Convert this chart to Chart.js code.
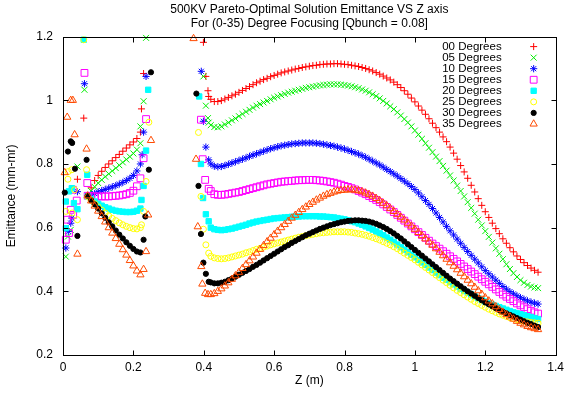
<!DOCTYPE html>
<html>
<head>
<meta charset="utf-8">
<script src="https://cdn.jsdelivr.net/npm/chart.js@4.4.1/dist/chart.umd.min.js"></script>
<style>
html,body{margin:0;padding:0;background:#ffffff;}
#wrap{width:569px;height:396px;position:relative;}
</style>
</head>
<body>
<div id="wrap"><canvas id="c" width="569" height="396"></canvas></div>
<script>
// ---------------- DATA ----------------
const seriesLabels = ["00 Degrees","05 Degrees","10 Degrees","15 Degrees","20 Degrees","25 Degrees","30 Degrees","35 Degrees"];
const titleLines = ["500KV Pareto-Optimal Solution Emittance VS Z axis","For (0-35) Degree Focusing [Qbunch = 0.08]"];
const xTicks = [0,0.2,0.4,0.6,0.8,1,1.2,1.4];
const yTicks = [0.2,0.4,0.6,0.8,1,1.2];

// first (short) section of every curve
const zSeg1 = [0.07,0.08,0.09,0.10,0.11,0.12,0.13,0.14,0.15,0.16,0.17,0.18,0.19,0.20,0.21,0.22];
// second (long) section of every curve
const zSeg2 = [0.42,0.43,0.44,0.45,0.46,0.47,0.48,0.49,
  0.50,0.51,0.52,0.53,0.54,0.55,0.56,0.57,0.58,0.59,
  0.60,0.61,0.62,0.63,0.64,0.65,0.66,0.67,0.68,0.69,
  0.70,0.71,0.72,0.73,0.74,0.75,0.76,0.77,0.78,0.79,
  0.80,0.81,0.82,0.83,0.84,0.85,0.86,0.87,0.88,0.89,
  0.90,0.91,0.92,0.93,0.94,0.95,0.96,0.97,0.98,0.99,
  1.00,1.01,1.02,1.03,1.04,1.05,1.06,1.07,1.08,1.09,
  1.10,1.11,1.12,1.13,1.14,1.15,1.16,1.17,1.18,1.19,
  1.20,1.21,1.22,1.23,1.24,1.25,1.26,1.27,1.28,1.29,
  1.30,1.31,1.32,1.33,1.34,1.35];

const deg00_seg1 = [0.70,0.725,0.748,0.764,0.777,0.789,0.80,0.81,0.82,0.83,0.84,0.85,0.86,0.869,0.88,0.90];
const deg05_seg1 = [0.70,0.715,0.728,0.74,0.75,0.76,0.769,0.778,0.787,0.796,0.805,0.814,0.823,0.833,0.845,0.865];
const deg10_seg1 = [0.698,0.703,0.707,0.712,0.716,0.72,0.724,0.728,0.732,0.737,0.742,0.748,0.755,0.764,0.778,0.80];
const deg15_seg1 = [0.70,0.699,0.698,0.698,0.698,0.698,0.698,0.699,0.70,0.701,0.703,0.705,0.709,0.716,0.73,0.755];
const deg20_seg1 = [0.698,0.69,0.682,0.675,0.669,0.664,0.66,0.656,0.653,0.651,0.65,0.649,0.649,0.65,0.653,0.66];
const deg25_seg1 = [0.697,0.686,0.675,0.665,0.655,0.646,0.637,0.629,0.622,0.615,0.609,0.604,0.60,0.597,0.596,0.60];
const deg30_seg1 = [0.70,0.686,0.673,0.66,0.645,0.631,0.617,0.604,0.591,0.578,0.566,0.554,0.543,0.533,0.525,0.522];
const deg35_seg1 = [0.70,0.684,0.668,0.652,0.635,0.618,0.60,0.583,0.566,0.548,0.531,0.514,0.497,0.48,0.464,0.452];

const deg00_seg2 = [1.003,0.996,0.996,0.999,1.004,1.009,1.014,1.019,
  1.025,1.031,1.037,1.043,1.049,1.055,1.06,1.065,1.069,1.074,
  1.078,1.082,1.086,1.089,1.092,1.095,1.098,1.10,1.103,1.105,
  1.107,1.109,1.11,1.112,1.113,1.114,1.114,1.115,1.115,1.114,
  1.113,1.112,1.11,1.108,1.106,1.103,1.10,1.096,1.092,1.087,
  1.082,1.076,1.07,1.064,1.057,1.049,1.04,1.03,1.019,1.007,
  0.995,0.982,0.969,0.956,0.942,0.928,0.914,0.90,0.885,0.87,
  0.853,0.834,0.815,0.795,0.775,0.755,0.733,0.712,0.691,0.67,
  0.65,0.632,0.614,0.597,0.581,0.565,0.551,0.537,0.524,0.511,
  0.50,0.49,0.481,0.473,0.466,0.46];
const deg05_seg2 = [0.922,0.916,0.915,0.918,0.924,0.93,0.937,0.943,
  0.95,0.957,0.964,0.97,0.977,0.983,0.988,0.993,0.998,1.003,
  1.008,1.012,1.016,1.02,1.024,1.027,1.03,1.033,1.036,1.039,
  1.041,1.043,1.045,1.047,1.048,1.049,1.05,1.05,1.05,1.049,
  1.048,1.046,1.044,1.041,1.038,1.034,1.03,1.025,1.019,1.013,
  1.006,0.998,0.99,0.981,0.972,0.962,0.952,0.941,0.93,0.918,
  0.905,0.892,0.879,0.865,0.851,0.837,0.823,0.809,0.794,0.779,
  0.764,0.748,0.732,0.715,0.698,0.68,0.662,0.644,0.625,0.607,
  0.589,0.571,0.553,0.535,0.518,0.501,0.485,0.47,0.457,0.445,
  0.435,0.427,0.42,0.415,0.412,0.41];
const deg10_seg2 = [0.80,0.793,0.791,0.792,0.795,0.799,0.803,0.807,
  0.811,0.815,0.819,0.824,0.828,0.832,0.836,0.84,0.844,0.848,
  0.851,0.854,0.857,0.859,0.861,0.863,0.864,0.865,0.866,0.866,
  0.866,0.866,0.865,0.864,0.862,0.86,0.858,0.856,0.853,0.85,
  0.847,0.843,0.839,0.835,0.831,0.826,0.821,0.815,0.809,0.803,
  0.797,0.79,0.783,0.776,0.769,0.762,0.754,0.746,0.738,0.729,
  0.72,0.709,0.697,0.685,0.673,0.66,0.646,0.632,0.618,0.604,
  0.59,0.577,0.564,0.551,0.538,0.525,0.513,0.501,0.489,0.477,
  0.465,0.455,0.445,0.435,0.425,0.415,0.407,0.399,0.392,0.386,
  0.38,0.375,0.37,0.366,0.363,0.36];
const deg15_seg2 = [0.715,0.705,0.703,0.703,0.704,0.706,0.708,0.71,
  0.712,0.715,0.718,0.721,0.724,0.727,0.73,0.733,0.736,0.738,
  0.74,0.742,0.744,0.745,0.746,0.747,0.748,0.749,0.749,0.75,
  0.75,0.75,0.749,0.748,0.747,0.745,0.743,0.741,0.738,0.735,
  0.731,0.728,0.724,0.72,0.715,0.71,0.705,0.699,0.693,0.687,
  0.68,0.673,0.665,0.657,0.649,0.64,0.631,0.622,0.613,0.604,
  0.595,0.586,0.577,0.568,0.559,0.55,0.542,0.534,0.526,0.518,
  0.51,0.502,0.494,0.486,0.478,0.47,0.462,0.454,0.446,0.438,
  0.43,0.422,0.414,0.406,0.398,0.39,0.383,0.376,0.369,0.362,
  0.356,0.35,0.344,0.339,0.334,0.33];
const deg20_seg2 = [0.60,0.595,0.593,0.592,0.593,0.595,0.597,0.60,
  0.603,0.606,0.609,0.613,0.616,0.619,0.621,0.623,0.625,0.627,
  0.629,0.63,0.631,0.632,0.633,0.634,0.635,0.635,0.636,0.636,
  0.636,0.636,0.636,0.635,0.635,0.634,0.633,0.632,0.63,0.628,
  0.626,0.623,0.62,0.617,0.613,0.609,0.604,0.599,0.594,0.588,
  0.582,0.576,0.569,0.562,0.555,0.547,0.539,0.531,0.523,0.515,
  0.507,0.499,0.491,0.483,0.475,0.467,0.459,0.451,0.443,0.436,
  0.429,0.422,0.415,0.408,0.402,0.396,0.39,0.384,0.378,0.373,
  0.368,0.363,0.358,0.354,0.35,0.346,0.342,0.338,0.334,0.331,
  0.328,0.325,0.322,0.319,0.316,0.313];
const deg25_seg2 = [0.51,0.505,0.503,0.502,0.503,0.505,0.508,0.511,
  0.514,0.517,0.521,0.524,0.528,0.532,0.535,0.539,0.542,0.546,
  0.549,0.552,0.555,0.558,0.561,0.564,0.567,0.57,0.572,0.575,
  0.577,0.579,0.581,0.583,0.584,0.585,0.586,0.587,0.587,0.587,
  0.587,0.586,0.585,0.583,0.581,0.579,0.576,0.573,0.569,0.565,
  0.561,0.556,0.551,0.546,0.54,0.534,0.527,0.52,0.513,0.506,
  0.499,0.491,0.483,0.475,0.467,0.459,0.451,0.443,0.435,0.427,
  0.419,0.411,0.403,0.396,0.389,0.382,0.375,0.368,0.362,0.356,
  0.35,0.344,0.339,0.334,0.329,0.325,0.321,0.317,0.314,0.311,
  0.308,0.306,0.304,0.302,0.301,0.30];
const deg30_seg2 = [0.428,0.425,0.425,0.427,0.43,0.435,0.44,0.446,
  0.452,0.458,0.464,0.47,0.477,0.483,0.49,0.497,0.504,0.511,
  0.518,0.525,0.532,0.539,0.545,0.552,0.558,0.564,0.57,0.576,
  0.581,0.586,0.591,0.596,0.60,0.604,0.608,0.611,0.614,0.617,
  0.619,0.621,0.622,0.623,0.623,0.622,0.621,0.619,0.616,0.612,
  0.607,0.602,0.596,0.589,0.582,0.574,0.566,0.557,0.548,0.539,
  0.53,0.521,0.512,0.503,0.494,0.485,0.476,0.467,0.458,0.449,
  0.44,0.432,0.424,0.416,0.408,0.40,0.393,0.386,0.379,0.372,
  0.365,0.359,0.353,0.347,0.341,0.336,0.331,0.326,0.321,0.316,
  0.311,0.306,0.301,0.297,0.292,0.288];
const deg35_seg2 = [0.39,0.393,0.40,0.408,0.417,0.427,0.438,0.449,
  0.46,0.472,0.484,0.496,0.508,0.52,0.532,0.544,0.556,0.567,
  0.578,0.589,0.60,0.61,0.62,0.63,0.639,0.648,0.657,0.665,
  0.673,0.68,0.687,0.693,0.699,0.704,0.708,0.712,0.715,0.717,
  0.718,0.719,0.719,0.718,0.716,0.713,0.709,0.704,0.699,0.692,
  0.685,0.677,0.669,0.66,0.651,0.642,0.633,0.624,0.614,0.605,
  0.595,0.585,0.575,0.565,0.555,0.545,0.534,0.523,0.512,0.501,
  0.49,0.479,0.468,0.457,0.446,0.435,0.424,0.413,0.402,0.391,
  0.38,0.37,0.361,0.352,0.343,0.335,0.327,0.32,0.313,0.306,
  0.30,0.295,0.29,0.286,0.283,0.28];

// isolated points [z, emittance]
const deg00_extra = [[0.041,0.752],[0.059,0.944],[0.223,0.973],[0.229,1.084],[0.399,1.182],[0.406,1.075],[0.412,1.03],[0.414,1.012]];
const deg05_extra = [[0.008,0.509],[0.014,0.572],[0.022,0.593],[0.041,0.792],[0.061,1.033],[0.22,0.918],[0.229,0.997],[0.236,1.196],[0.399,1.075],[0.406,0.983],[0.412,0.944],[0.414,0.93]];
const deg10_extra = [[0.008,0.536],[0.015,0.588],[0.022,0.614],[0.025,0.63],[0.041,0.713],[0.061,1.052],[0.225,0.829],[0.229,0.90],[0.236,1.075],[0.393,1.091],[0.399,0.934],[0.406,0.853],[0.414,0.813]];
const deg15_extra = [[0.008,0.562],[0.017,0.583],[0.012,0.625],[0.029,0.64],[0.022,0.656],[0.039,0.685],[0.028,0.719],[0.069,0.74],[0.061,1.086],[0.229,0.818],[0.236,0.941],[0.392,0.939],[0.397,0.815],[0.404,0.75],[0.414,0.722]];
const deg20_extra = [[0.008,0.598],[0.008,0.682],[0.017,0.714],[0.025,0.724],[0.031,0.677],[0.041,0.658],[0.069,0.766],[0.059,1.19],[0.223,0.687],[0.229,0.731],[0.236,0.842],[0.242,1.033],[0.387,1.012],[0.392,0.80],[0.398,0.693],[0.406,0.642],[0.414,0.62]];
const deg25_extra = [[0.008,0.651],[0.014,0.752],[0.015,0.776],[0.025,0.782],[0.026,0.646],[0.033,0.719],[0.041,0.625],[0.067,0.782],[0.059,1.19],[0.223,0.609],[0.229,0.651],[0.236,0.745],[0.244,0.931],[0.385,0.899],[0.392,0.698],[0.399,0.595],[0.406,0.546],[0.414,0.52]];
const deg30_extra = [[0.005,0.71],[0.014,0.839],[0.022,0.871],[0.026,0.866],[0.034,0.785],[0.041,0.574],[0.067,0.813],[0.229,0.562],[0.234,0.635],[0.244,0.782],[0.25,1.088],[0.379,1.021],[0.385,0.731],[0.392,0.58],[0.399,0.49],[0.406,0.455],[0.414,0.43]];
const deg35_extra = [[0.005,0.773],[0.012,0.947],[0.022,1.0],[0.028,1.0],[0.033,0.892],[0.041,0.517],[0.067,0.847],[0.229,0.469],[0.236,0.525],[0.242,0.64],[0.25,0.874],[0.371,1.194],[0.378,0.815],[0.383,0.603],[0.393,0.478],[0.396,0.423],[0.404,0.394],[0.412,0.39]];

// ---------------- STYLE ----------------
const FONT = '"Liberation Sans", Arial, Helvetica, sans-serif';
const markerStyles = [
  {color:'#ff0000', style:'cross',    r:3.5, filled:false},
  {color:'#00ee00', style:'crossRot', r:4.2, filled:false},
  {color:'#0000ff', style:'star',     r:3.6, filled:false},
  {color:'#ff00ff', style:'rect',     r:4.8, filled:false},
  {color:'#00ffff', style:'rect',     r:3.8, filled:true},
  {color:'#ffff00', style:'circle',   r:3.0, filled:false},
  {color:'#000000', style:'circle',   r:2.6, filled:true},
  {color:'#ff4a00', style:'triangle', r:4.2, filled:false}
];

const seg1Values = [deg00_seg1,deg05_seg1,deg10_seg1,deg15_seg1,deg20_seg1,deg25_seg1,deg30_seg1,deg35_seg1];
const seg2Values = [deg00_seg2,deg05_seg2,deg10_seg2,deg15_seg2,deg20_seg2,deg25_seg2,deg30_seg2,deg35_seg2];
const extraValues = [deg00_extra,deg05_extra,deg10_extra,deg15_extra,deg20_extra,deg25_extra,deg30_extra,deg35_extra];

function buildPoints(i){
  const pts = [];
  extraValues[i].forEach(p => pts.push({x:p[0], y:p[1]}));
  zSeg1.forEach((z,k) => pts.push({x:z, y:seg1Values[i][k]}));
  zSeg2.forEach((z,k) => pts.push({x:z, y:seg2Values[i][k]}));
  return pts;
}

const datasets = seriesLabels.map((lab,i) => {
  const s = markerStyles[i];
  return {
    label: lab,
    data: buildPoints(i),
    showLine: false,
    pointStyle: s.style,
    pointRadius: s.r,
    pointHoverRadius: s.r,
    pointBorderWidth: 1,
    borderColor: s.color,
    backgroundColor: s.filled ? s.color : 'rgba(0,0,0,0)',
    pointBorderColor: s.color,
    pointBackgroundColor: s.filled ? s.color : 'rgba(0,0,0,0)',
    order: seriesLabels.length - 1 - i,
    clip: false
  };
});

// gnuplot-like frame, mirrored inward ticks and key
const gnuplotDecor = {
  id: 'gnuplotDecor',
  afterLayout(chart){
    const a = chart.chartArea;
    if (chart.titleBlock){ chart.titleBlock.left = a.left; chart.titleBlock.right = a.right; chart.titleBlock.width = a.right - a.left; }
  },
  afterDraw(chart){
    const ctx = chart.ctx, a = chart.chartArea;
    const xs = chart.scales.x, ys = chart.scales.y;
    const L = Math.round(a.left)+0.5, R = Math.round(a.right)+0.5, T = Math.round(a.top)+0.5, B = Math.round(a.bottom)+0.5;
    ctx.save();
    ctx.strokeStyle = '#000'; ctx.lineWidth = 1;
    ctx.beginPath();
    const tl = 5;
    xs.ticks.forEach(t => {
      const px = Math.round(xs.getPixelForValue(t.value))+0.5;
      if (px <= L+1 || px >= R-1) return;
      ctx.moveTo(px, B); ctx.lineTo(px, B - tl);
      ctx.moveTo(px, T); ctx.lineTo(px, T + tl);
    });
    ys.ticks.forEach(t => {
      const py = Math.round(ys.getPixelForValue(t.value))+0.5;
      if (py <= T+1 || py >= B-1) return;
      ctx.moveTo(L, py); ctx.lineTo(L + tl, py);
      ctx.moveTo(R, py); ctx.lineTo(R - tl, py);
    });
    ctx.stroke();
    ctx.strokeRect(L, T, R - L, B - T);

    // key
    ctx.font = '11.5px ' + FONT;
    ctx.textAlign = 'right';
    ctx.textBaseline = 'middle';
    const keyTextX = a.right - 54, keyMarkX = a.right - 22, keyY0 = a.top + 10, keyDy = 11.05;
    chart.data.datasets.forEach((ds,i) => {
      const y = keyY0 + i*keyDy;
      ctx.fillStyle = '#000';
      ctx.fillText(ds.label, keyTextX, y);
      ctx.strokeStyle = ds.pointBorderColor;
      ctx.fillStyle = ds.pointBackgroundColor;
      ctx.lineWidth = 1;
      Chart.helpers.drawPoint(ctx, {pointStyle: ds.pointStyle, radius: ds.pointRadius, rotation: 0, borderWidth: 1}, keyMarkX, y);
    });
    ctx.restore();
  }
};

Chart.defaults.font.family = FONT;
Chart.defaults.color = '#000';

new Chart(document.getElementById('c'), {
  type: 'scatter',
  data: { datasets },
  plugins: [gnuplotDecor],
  options: {
    responsive: false,
    animation: false,
    devicePixelRatio: 1,
    events: [],
    layout: { padding: { left: 0, right: 10, top: 0, bottom: 0 } },
    plugins: {
      legend: { display: false },
      tooltip: { enabled: false },
      title: {
        display: true,
        text: titleLines,
        color: '#000',
        font: { family: FONT, size: 12, weight: 'normal', lineHeight: 1.15 },
        padding: { top: 3, bottom: 6 }
      }
    },
    scales: {
      x: {
        type: 'linear', min: 0, max: 1.4,
        afterBuildTicks: s => { s.ticks = xTicks.map(v => ({value: v})); },
        ticks: { color: '#000', font: { size: 12 }, padding: 5, maxRotation: 0, autoSkip: false,
                 callback: v => String(+Number(v).toFixed(1)) },
        grid: { display: false, drawTicks: false },
        border: { display: false },
        title: { display: true, text: 'Z (m)', color: '#000', font: { size: 12 }, padding: { top: 0, bottom: 8 } },
        afterFit: s => { s.height = 41; }
      },
      y: {
        type: 'linear', min: 0.2, max: 1.2,
        afterBuildTicks: s => { s.ticks = yTicks.map(v => ({value: v})); },
        ticks: { color: '#000', font: { size: 12 }, padding: 10, autoSkip: false,
                 callback: v => String(+Number(v).toFixed(1)) },
        grid: { display: false, drawTicks: false },
        border: { display: false },
        title: { display: true, text: 'Emittance (mm-mr)', color: '#000', font: { size: 12 }, padding: { top: 4, bottom: 0 } },
        afterFit: s => { s.width = 63; }
      }
    }
  }
});
</script>
</body>
</html>
